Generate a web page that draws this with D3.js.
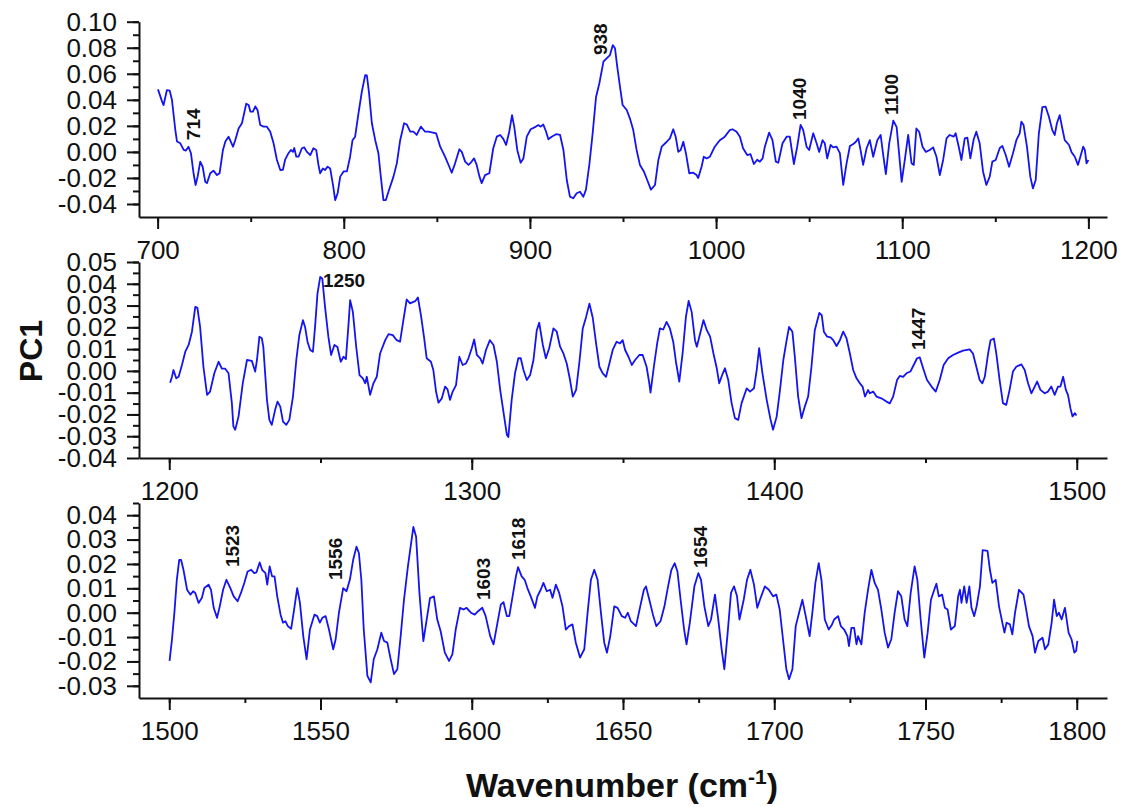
<!DOCTYPE html>
<html lang="en">
<head>
<meta charset="UTF-8">
<title>PC1 loadings</title>
<script src="https://cdn.jsdelivr.net/npm/d3@7"></script>
<style>
  body { margin: 0; background: #fff; }
  svg text { font-family: "Liberation Sans", Arial, sans-serif; fill: #111; }
</style>
</head>
<body>
<svg id="chart" width="1136" height="807"></svg>
<script>
// PC1 loading as [wavenumber, value]
const spec1 = [[700.2,0.048],[702.4,0.0386],[703.2,0.036],[705,0.0475],[706.5,0.047],[707.7,0.040],[709.5,0.017],[710.4,0.008],[712.2,0.0066],[713.1,0.004],[714,0.0015],[715.2,0.001],[716.6,0.004],[717.9,-0.001],[719.3,-0.0164],[720.4,-0.0254],[721.5,-0.019],[722.9,-0.0075],[724.2,-0.0114],[725.6,-0.023],[726.5,-0.024],[728.3,-0.0164],[730,-0.0144],[731.9,-0.0178],[733.3,-0.0164],[735.1,0.0015],[736.4,0.008],[738.1,0.0117],[740.5,0.004],[741.7,0.009],[743.5,0.018],[745.3,0.022],[747.6,0.037],[748.9,0.036],[749.8,0.031],[751.2,0.031],[752.5,0.035],[753.7,0.032],[755.1,0.0207],[756.9,0.0194],[758.7,0.0194],[760.5,0.0155],[762.3,0.0066],[764.1,-0.0062],[765.9,-0.0139],[767.3,-0.0137],[768.5,-0.006],[770.3,-0.001],[771.6,0.0015],[772.7,0],[773.4,0.003],[774.5,-0.0037],[775.7,-0.0037],[777.5,0.0028],[778.7,0.0035],[780.2,0],[782,-0.0024],[783.7,0.0028],[785.2,0.0015],[786.4,-0.010],[787.3,-0.0164],[788.8,-0.0127],[790,-0.0139],[791.3,-0.0113],[792.7,-0.0127],[794.2,-0.0254],[795.4,-0.037],[796.7,-0.0318],[798.1,-0.019],[799.9,-0.015],[801.7,-0.015],[803.4,-0.0037],[804.7,0.009],[806.1,0.0117],[807.9,0.0296],[809.7,0.0462],[811.5,0.059],[812.4,0.0587],[813.6,0.045],[815.1,0.022],[816.9,0.009],[818.6,-0.001],[819.9,-0.019],[821.3,-0.037],[822.6,-0.037],[824,-0.0306],[826.7,-0.019],[828.5,-0.0088],[830.3,0.009],[832.4,0.022],[833.9,0.021],[835.7,0.0155],[837.4,0.0155],[839.2,0.013],[841.4,0.0194],[843.7,0.0155],[845.5,0.0155],[847.3,0.015],[849.6,0.0143],[851.8,0.004],[854.4,-0.0037],[856.7,-0.0114],[858,-0.016],[859.8,-0.0088],[862.1,0.002],[863.4,0],[865.2,-0.0075],[867,-0.010],[868.3,-0.0082],[870,-0.005],[871.4,-0.010],[872.9,-0.019],[874.1,-0.024],[875.9,-0.0178],[878.2,-0.0164],[880.3,0.0028],[882.2,0.0117],[884,0.013],[885.7,0.01],[887.2,0.0053],[888.9,0.0155],[890.4,0.0283],[891.6,0.019],[893.2,0.0015],[895,-0.0083],[896.5,-0.005],[898.3,0.0117],[900.4,0.0174],[902.7,0.019],[904.5,0.0206],[905.8,0.0194],[907.2,0.021],[908.7,0.0155],[909.9,0.0097],[911.7,0.0117],[914,0.0136],[916.2,0.013],[918,0.0015],[919.8,-0.0216],[921.5,-0.0344],[923.3,-0.0356],[925.1,-0.0318],[926.9,-0.0306],[928.7,-0.0344],[930.1,-0.029],[931.9,-0.010],[933.7,0.0143],[935.5,0.042],[937.3,0.0527],[939.5,0.0693],[941.2,0.0719],[943,0.0744],[944.5,0.082],[945.7,0.0796],[946.9,0.0655],[948.4,0.050],[949.8,0.036],[952,0.0322],[953.7,0.0258],[955.5,0.0168],[957.3,0.0015],[959.1,-0.010],[961.2,-0.015],[963,-0.0216],[965,-0.029],[967.2,-0.0254],[969,-0.0062],[970.8,0.004],[973.5,0.0078],[975.2,0.0104],[977,0.0174],[978.3,0.0117],[979.7,0],[981,0.0015],[982.4,0.0078],[983.8,-0.001],[985.6,-0.0164],[987.7,-0.016],[989.5,-0.0178],[990.4,-0.020],[992.2,-0.0114],[993.4,-0.0037],[994.9,-0.005],[996.7,-0.0037],[999.3,0.004],[1002,0.009],[1004.7,0.0117],[1007.4,0.0168],[1008.8,0.0174],[1011,0.0155],[1012.8,0.0117],[1014.5,0.0028],[1016.7,-0.0024],[1018.5,-0.0018],[1020.3,-0.0093],[1022.1,-0.006],[1023.5,-0.0075],[1025,-0.005],[1026.2,0.004],[1028.5,0.0148],[1030.3,0.009],[1032.1,-0.0075],[1033.4,-0.0083],[1035.7,0.0066],[1037.9,0.0117],[1039.6,0.0117],[1041.8,-0.0093],[1043.6,0.004],[1045.4,0.0207],[1046.8,0.0168],[1048.6,0.004],[1050,0.0015],[1052.2,0.0143],[1054,0.0066],[1055.4,0],[1057.2,0.009],[1058.4,0.0066],[1059.7,-0.005],[1061.5,0.0053],[1062.9,0.0035],[1064.7,0.004],[1066.5,-0.001],[1068.3,-0.0254],[1070.1,-0.0088],[1071.9,0.0045],[1073.7,0.006],[1075.1,0.0078],[1076.4,0.0104],[1077.6,0.0015],[1079,-0.010],[1080.9,0.003],[1082.6,0.009],[1084.4,-0.0037],[1086.6,0.009],[1088.4,0.013],[1089.8,-0.0024],[1091.2,-0.017],[1093,0.0066],[1095.2,0.024],[1097,0.019],[1098.8,-0.0088],[1099.7,-0.023],[1101.4,-0.006],[1103.2,0.013],[1105,-0.0088],[1106.2,-0.010],[1107.6,0.018],[1109.1,0.0155],[1110.9,0.004],[1112.7,0],[1114.8,0.0015],[1116.6,0.0035],[1118.4,-0.0037],[1120.2,-0.0178],[1122,-0.006],[1123.8,0.0104],[1125.5,0.013],[1127.7,0.0117],[1128.7,0.0143],[1130.5,0.003],[1131.8,-0.0062],[1133.6,0.0104],[1135,0.011],[1136.6,-0.005],[1138.4,0.0097],[1139.8,0.0155],[1141.6,0.0066],[1143.4,-0.015],[1145.2,-0.0254],[1147,-0.019],[1148.4,-0.0075],[1150.2,-0.0062],[1152.4,0.003],[1153.8,0.0045],[1155.6,-0.0024],[1157.4,-0.0114],[1159.5,-0.001],[1161.3,0.009],[1163.1,0.0143],[1164,0.0232],[1165.2,0.0206],[1167,0.004],[1168.8,-0.019],[1170.2,-0.028],[1171.7,-0.0216],[1173.4,0.0143],[1175.3,0.0343],[1177,0.0348],[1178.8,0.027],[1180.6,0.0168],[1181.9,0.013],[1183.1,0.022],[1184.6,0.0283],[1186,0.018],[1187.3,0.009],[1189.6,0.0053],[1190.9,0],[1192.7,-0.0037],[1194.4,-0.010],[1195.7,-0.0037],[1197.2,0.004],[1198.1,0.0015],[1199,-0.0088],[1200,-0.0062]];

const spec2 = [[1200.3,-0.0054],[1200.9,-0.0027],[1201.4,0.0004],[1202.3,-0.0034],[1203.1,-0.0027],[1204.2,0.0027],[1205.3,0.0088],[1206.4,0.0119],[1207.5,0.018],[1208.6,0.0294],[1209.3,0.029],[1210.2,0.0202],[1211.3,0.0019],[1212.5,-0.011],[1213.5,-0.0095],[1214.9,-0.0011],[1216.3,0.0042],[1217.4,0.001],[1218.5,0.001],[1219.6,-0.0011],[1220.7,-0.0148],[1221.2,-0.0255],[1221.8,-0.027],[1222.9,-0.021],[1224.3,-0.0057],[1225.7,0.005],[1227.3,0.0046],[1228.4,-0.0003],[1229,0.005],[1229.8,0.0157],[1230.6,0.015],[1231.1,0.011],[1232.3,-0.0133],[1233.1,-0.0225],[1233.9,-0.0248],[1235,-0.0179],[1235.8,-0.0141],[1236.7,-0.0164],[1237.6,-0.0233],[1238.7,-0.0248],[1239.7,-0.0225],[1240.9,-0.0118],[1242,0.005],[1243,0.0164],[1244.2,0.0233],[1244.9,0.0202],[1245.7,0.0134],[1246.6,0.0096],[1247.5,0.0088],[1248.2,0.0202],[1249,0.0355],[1249.9,0.0431],[1250.6,0.0424],[1251.5,0.0294],[1252.6,0.0157],[1253.5,0.0073],[1254.6,0.0119],[1255.6,0.011],[1256.7,0.0042],[1257.6,0.0065],[1258.4,0.0054],[1259.2,0.0202],[1259.8,0.0325],[1260.7,0.0271],[1261.8,0.0111],[1262.9,-0.0019],[1264,-0.0034],[1264.8,-0.0057],[1265.3,-0.0027],[1266.4,-0.011],[1267.5,-0.0057],[1268.6,-0.0027],[1269.7,0.008],[1271.4,0.0141],[1272.5,0.0169],[1273.9,0.0164],[1275.2,0.0141],[1276.3,0.0134],[1277.4,0.0233],[1278.5,0.0328],[1279.6,0.031],[1281.3,0.032],[1282.2,0.0337],[1283.2,0.0256],[1284.2,0.0157],[1285.1,0.0058],[1286.5,0.0042],[1287.3,0.0004],[1288.2,-0.0095],[1289,-0.0146],[1290.1,-0.0126],[1291.2,-0.0072],[1292,-0.0085],[1292.8,-0.0133],[1293.7,-0.0095],[1294.8,-0.0065],[1295.9,0.0065],[1297,0.0027],[1298.1,0.0034],[1298.9,0.0058],[1300,0.0104],[1300.8,0.0144],[1301.7,0.0073],[1302.8,0.0057],[1303.6,0.0034],[1304.7,0.0096],[1306,0.0141],[1307.2,0.0119],[1308.3,0.0042],[1309.4,-0.0087],[1310.7,-0.0209],[1311.6,-0.0293],[1312.1,-0.0304],[1313.2,-0.0133],[1314.3,-0.0011],[1315.4,0.0058],[1316.2,0.0058],[1317.1,0.0004],[1318.2,-0.0042],[1319.3,-0.0019],[1320.4,0.005],[1321.5,0.0187],[1322.3,0.0221],[1323.5,0.0119],[1324.5,0.0058],[1325.6,0.0104],[1327,0.0195],[1328.1,0.018],[1329.2,0.0111],[1330.3,0.008],[1331.4,0.0034],[1332.5,-0.0042],[1333.4,-0.0118],[1334.5,-0.0087],[1335.6,0.0042],[1336.7,0.0195],[1337.8,0.0248],[1338.9,0.0309],[1340,0.0244],[1341.1,0.0126],[1342.2,0.0019],[1343.3,-0.0011],[1344.4,-0.0027],[1345.5,0.0034],[1346.6,0.0096],[1347.9,0.0134],[1349,0.0126],[1349.9,0.0141],[1350.7,0.0096],[1351.8,0.0065],[1352.9,0.0027],[1354,0.005],[1355.4,0.0073],[1356.5,0.0073],[1357.8,0.0019],[1358.7,-0.0057],[1359.1,-0.01],[1360.2,0.0019],[1361.3,0.0126],[1362.2,0.0195],[1363.3,0.019],[1364.4,0.0225],[1365.5,0.0195],[1366.6,0.0134],[1367.5,0.0042],[1368.6,-0.0049],[1369.7,0.008],[1370.8,0.0248],[1371.7,0.0321],[1372.7,0.0271],[1373.8,0.0141],[1374.4,0.0111],[1375.5,0.0172],[1376.6,0.0233],[1377.7,0.0187],[1378.8,0.0157],[1379.9,0.008],[1381,0.0012],[1381.8,-0.0057],[1383,-0.0011],[1383.7,0.0012],[1384.8,-0.0042],[1385.9,-0.0148],[1387,-0.0217],[1388.1,-0.0225],[1389.2,-0.0148],[1390.9,-0.008],[1392,-0.0095],[1393.3,-0.008],[1394.2,0.0004],[1395,0.0104],[1396.1,-0.0011],[1397.5,-0.0133],[1398.8,-0.0225],[1399.6,-0.027],[1400.8,-0.021],[1401.9,-0.0087],[1403,0.005],[1404.1,0.0141],[1404.9,0.0202],[1406,0.018],[1406.8,0.0065],[1407.9,-0.0118],[1409,-0.0217],[1410.1,-0.0164],[1411.2,-0.0118],[1412.3,0.0019],[1413.4,0.0187],[1414.9,0.0266],[1415.7,0.0256],[1416.4,0.018],[1417.5,0.0157],[1418.6,0.0154],[1419.5,0.0141],[1420.6,0.0114],[1421.7,0.0141],[1422.8,0.018],[1423.9,0.0149],[1425,0.008],[1426.1,0.0004],[1427.2,-0.0034],[1428.3,-0.0057],[1429.2,-0.0072],[1430,-0.0118],[1431,-0.0088],[1431.6,-0.0103],[1432.7,-0.0095],[1433.8,-0.0118],[1435.4,-0.0126],[1437.1,-0.0141],[1438.2,-0.0149],[1439.3,-0.0118],[1440.6,-0.0042],[1441.5,-0.0023],[1442.6,-0.0027],[1443.7,-0.0011],[1445,-0.0003],[1446.1,0.0027],[1447.2,0.0058],[1448.1,0.0062],[1449.4,0.0004],[1450.5,-0.0042],[1452,-0.0072],[1453.4,-0.0095],[1454.7,-0.0042],[1456,0.0027],[1457.5,0.0058],[1459.1,0.0073],[1460.8,0.0084],[1462.4,0.0093],[1464.6,0.0099],[1465.7,0.008],[1466.8,0.0019],[1467.9,-0.0042],[1468.8,-0.0057],[1469.6,-0.0027],[1470.7,0.008],[1471.5,0.0141],[1472.6,0.0149],[1473.4,0.008],[1474.5,-0.0042],[1475.6,-0.0148],[1476.7,-0.0156],[1477.8,-0.0087],[1478.9,-0.0003],[1480,0.0019],[1481.7,0.003],[1482.8,0.0004],[1483.9,-0.0057],[1485,-0.0103],[1486.1,-0.0072],[1486.9,-0.0049],[1488,-0.0087],[1489.4,-0.0103],[1490.5,-0.0095],[1491.6,-0.0072],[1492.7,-0.011],[1493.8,-0.0072],[1494.6,-0.0072],[1495.5,-0.0027],[1496.4,-0.0087],[1497.1,-0.011],[1497.9,-0.0171],[1498.6,-0.0209],[1499.4,-0.0194],[1499.9,-0.0205]];

const spec3 = [[1500.1,-0.0198],[1500.9,-0.011],[1501.7,0],[1502.5,0.0135],[1503.3,0.0217],[1503.9,0.0217],[1504.7,0.0176],[1505.9,0.0094],[1507,0.0074],[1507.9,0.0088],[1508.6,0.0081],[1509.7,0.004],[1510.8,0.0061],[1511.6,0.0101],[1513,0.0115],[1513.8,0.0094],[1514.7,0.002],[1515.8,-0.0021],[1516.7,0.0026],[1517.8,0.0094],[1518.9,0.0135],[1520.2,0.0101],[1521.3,0.0067],[1522.6,0.0047],[1523.7,0.0081],[1524.8,0.0122],[1525.9,0.0169],[1527.1,0.0176],[1528.1,0.0162],[1528.8,0.0165],[1529.9,0.0206],[1530.7,0.0176],[1531.8,0.0162],[1532.4,0.0115],[1533.2,0.019],[1534,0.0149],[1534.8,0.0149],[1535.7,0.0067],[1536.8,-0.0008],[1537.6,-0.0041],[1538.4,-0.0035],[1539.2,-0.0055],[1540.3,-0.0066],[1541.2,0.0006],[1542.3,0.0101],[1543.2,0.004],[1544.3,-0.0096],[1545.4,-0.0191],[1546.5,-0.0069],[1548,-0.0008],[1548.9,-0.0014],[1549.8,-0.0041],[1550.6,-0.0021],[1551.7,-0.0014],[1552.8,-0.0069],[1554.2,-0.015],[1555,-0.011],[1556.1,0],[1557.5,0.0101],[1558.6,0.0088],[1559.7,0.0135],[1560.8,0.0217],[1561.9,0.0271],[1562.7,0.0244],[1563.5,0.0135],[1564.3,-0.0069],[1565.5,-0.0259],[1566.6,-0.0286],[1567.6,-0.0191],[1568.8,-0.015],[1570.1,-0.0082],[1571,-0.0116],[1572.1,-0.0123],[1573.2,-0.0191],[1574.3,-0.0252],[1575.4,-0.0232],[1576.5,-0.0096],[1577.6,0.0053],[1578.9,0.019],[1580.7,0.0352],[1581.6,0.0312],[1582.7,0.0081],[1584,-0.0117],[1585.1,-0.0028],[1586.2,0.006],[1587.5,0.0067],[1588.6,-0.0028],[1589.7,-0.0075],[1591.1,-0.0164],[1592.5,-0.0198],[1593.6,-0.0171],[1594.7,-0.0069],[1596.1,0.002],[1597.3,0.0013],[1598.3,0.002],[1599.7,0],[1601,-0.0008],[1602.1,0.0006],[1603.5,0.002],[1604.6,-0.0014],[1606.1,-0.0096],[1607.2,-0.013],[1608.3,-0.0055],[1609.6,0.0033],[1610.5,0.0043],[1611.6,-0.0014],[1612.4,-0.0014],[1613.5,0.0067],[1614.6,0.0149],[1615.3,0.0187],[1616.5,0.0149],[1617.5,0.0135],[1618.4,0.0101],[1619.5,0.0067],[1620.9,0.002],[1621.7,0.0067],[1622.8,0.0094],[1623.7,0.0122],[1624.8,0.0088],[1625.9,0.0094],[1626.7,0.0061],[1627.8,0.0115],[1628.9,0.0081],[1630,0.0026],[1631.1,-0.0069],[1632.2,-0.0055],[1633.3,-0.0048],[1634.4,-0.0123],[1635.8,-0.0184],[1637.2,-0.015],[1638.3,0],[1639.4,0.0135],[1640.5,0.0176],[1641.6,0.0135],[1642.7,0],[1643.8,-0.0123],[1644.7,-0.0164],[1645.8,-0.0096],[1647.1,0.0026],[1648.2,0.002],[1649.6,-0.0014],[1650.7,-0.0021],[1651.6,0],[1652.6,-0.0035],[1654.3,-0.0055],[1655.7,0.0026],[1656.9,0.0094],[1657.6,0.0108],[1658.7,0.0053],[1659.9,-0.0008],[1661,-0.0055],[1662.4,-0.0035],[1663.7,0.0026],[1664.9,0.0108],[1666,0.0176],[1667.1,0.0203],[1668,0.0169],[1669.1,0.0047],[1670.2,-0.0069],[1671,-0.013],[1672.1,-0.0041],[1673.6,0.0108],[1674.9,0.0162],[1675.8,0.0135],[1676.9,0.0026],[1678.2,-0.0055],[1679.1,-0.0028],[1680.4,0.0074],[1681.5,-0.0028],[1682.6,-0.015],[1683.5,-0.0232],[1684.6,-0.0082],[1685.7,0.0081],[1686.7,0.0108],[1687.7,0.0067],[1688.5,-0.0028],[1689.9,0.0053],[1691,0.0135],[1692.1,0.0176],[1693.3,0.0115],[1694.4,0.002],[1695.5,0.0061],[1696.9,0.0108],[1698.2,0.0094],[1699.6,0.0067],[1700.7,0.0074],[1701.8,0.0013],[1702.9,-0.011],[1704,-0.0232],[1704.9,-0.0273],[1706,-0.0232],[1707.1,-0.0055],[1708.2,0],[1709.3,0.0053],[1710.4,-0.0014],[1711.7,-0.0096],[1712.6,0],[1713.6,0.0122],[1714.7,0.0203],[1715.6,0.0135],[1716.7,-0.0028],[1718,-0.0069],[1719.1,-0.0048],[1719.8,-0.0028],[1721.1,-0.0014],[1722,-0.0055],[1723.1,-0.0069],[1724.2,-0.0096],[1724.7,-0.0137],[1725.5,-0.0062],[1726.4,-0.0062],[1727.2,-0.013],[1727.7,-0.0096],[1728.8,-0.013],[1729.9,0],[1731,0.0094],[1732.1,0.0176],[1733.2,0.0122],[1734.3,0.0094],[1735.4,0.0013],[1736.5,-0.0082],[1737.6,-0.0143],[1738.7,-0.0109],[1739.8,0],[1740.9,0.0088],[1742,0.0067],[1743.1,-0.0028],[1744,-0.0055],[1745.1,0.0081],[1746.4,0.019],[1747.3,0.0135],[1748.4,-0.0028],[1749.6,-0.0184],[1750.7,-0.0082],[1751.8,0.0053],[1752.9,0.0094],[1753.6,0.0119],[1754.4,0.0067],[1755.5,0.0074],[1756.4,0.002],[1757.3,0.0013],[1758.4,-0.0069],[1759.7,-0.0055],[1760.8,0.0067],[1761.4,0.0094],[1761.9,0.004],[1762.8,0.0108],[1763.6,0.004],[1764.5,0.0108],[1765.2,0.002],[1766.1,-0.0014],[1766.9,0.0026],[1768,0.0108],[1768.9,0.0257],[1770.5,0.0254],[1771.3,0.0176],[1772.1,0.0122],[1773.2,0.0135],[1774.3,0.0026],[1775.4,-0.0041],[1776.1,-0.0082],[1776.8,-0.0041],[1777.9,-0.0048],[1778.7,-0.0089],[1779.6,0],[1780.9,0.0094],[1782.4,0.0074],[1783.1,0.0026],[1784.2,-0.0055],[1785.4,-0.0096],[1786.2,-0.0164],[1787.3,-0.0116],[1788.7,-0.0103],[1789.5,-0.015],[1790.6,-0.013],[1791.7,-0.0041],[1792.5,0.0053],[1793.4,-0.0014],[1794.1,0],[1795,-0.0028],[1796.1,0.002],[1797.3,-0.0082],[1798.3,-0.011],[1799.2,-0.0164],[1799.8,-0.0157],[1800.2,-0.0116]];

// tick labels
const xTicks1 = [700, 800, 900, 1000, 1100, 1200];
const xTicks2 = [1200, 1300, 1400, 1500];
const xTicks3 = [1500, 1550, 1600, 1650, 1700, 1750, 1800];
const yTicks1 = [-0.04, -0.02, 0.00, 0.02, 0.04, 0.06, 0.08, 0.10];
const yTicks2 = [-0.04, -0.03, -0.02, -0.01, 0.00, 0.01, 0.02, 0.03, 0.04, 0.05];
const yTicks3 = [-0.03, -0.02, -0.01, 0.00, 0.01, 0.02, 0.03, 0.04];

// band labels: wavenumber/value where the label sits
const peaks1 = [
  {text: "714", wn: 719, val: 0.009},
  {text: "938", wn: 937.6, val: 0.0744},
  {text: "1040", wn: 1044.5, val: 0.0245},
  {text: "1100", wn: 1094, val: 0.0283}
];
const peaks2 = [
  {text: "1250", wn: 1250.8, val: 0.0385, flat: true},
  {text: "1447", wn: 1447.5, val: 0.0096}
];
const peaks3 = [
  {text: "1523", wn: 1520.7, val: 0.0187},
  {text: "1556", wn: 1554.8, val: 0.0134},
  {text: "1603", wn: 1603.7, val: 0.0052},
  {text: "1618", wn: 1615.3, val: 0.0216},
  {text: "1654", wn: 1675.5, val: 0.0183}
];

const svg = d3.select("#chart");
const left = 139, right = 1107;

const panels = [
  {data: spec1, xDom: [690, 1210], yDom: [-0.05, 0.10], top: 21.7, bottom: 217,
   xMajor: xTicks1, xStep: 50, yMajor: yTicks1, yStep: 0.01, peaks: peaks1},
  {data: spec2, xDom: [1190, 1510], yDom: [-0.04, 0.05], top: 262, bottom: 458,
   xMajor: xTicks2, xStep: 50, yMajor: yTicks2, yStep: 0.005, peaks: peaks2},
  {data: spec3, xDom: [1490, 1810], yDom: [-0.035, 0.045], top: 503, bottom: 698,
   xMajor: xTicks3, xStep: 25, yMajor: yTicks3, yStep: 0.005, peaks: peaks3}
];

function styleAxis(g) {
  g.selectAll("path, line").attr("stroke", "#111").attr("stroke-width", 2);
  g.selectAll("text").attr("font-size", 26).attr("fill", "#111");
}

panels.forEach(function (p) {
  const x = d3.scaleLinear().domain(p.xDom).range([left, right]);
  const y = d3.scaleLinear().domain(p.yDom).range([p.bottom, p.top]);

  // minor ticks
  const xMinor = d3.range(p.xMajor[0], p.xMajor[p.xMajor.length - 1] + 1e-9, p.xStep);
  const nY = Math.round((p.yDom[1] - p.yDom[0]) / p.yStep);
  const yMinor = d3.range(1, nY + 1).map(i => +(p.yDom[0] + i * p.yStep).toFixed(4));

  svg.append("g")
    .attr("transform", `translate(0,${p.bottom})`)
    .call(d3.axisBottom(x).tickValues(xMinor).tickSize(5).tickFormat(""))
    .call(g => g.select(".domain").remove())
    .call(styleAxis);

  svg.append("g")
    .attr("transform", `translate(${left},0)`)
    .call(d3.axisLeft(y).tickValues(yMinor).tickSize(6).tickFormat(""))
    .call(g => g.select(".domain").remove())
    .call(styleAxis);

  svg.append("g")
    .attr("transform", `translate(0,${p.bottom})`)
    .call(d3.axisBottom(x).tickValues(p.xMajor).tickSize(12).tickSizeOuter(0)
      .tickPadding(12).tickFormat(d3.format("d")))
    .call(styleAxis);

  svg.append("g")
    .attr("transform", `translate(${left},0)`)
    .call(d3.axisLeft(y).tickValues(p.yMajor).tickSize(12).tickSizeOuter(0)
      .tickPadding(10).tickFormat(v => v.toFixed(2)))
    .call(styleAxis);

  const line = d3.line().x(d => x(d[0])).y(d => y(d[1]));
  svg.append("path")
    .datum(p.data)
    .attr("fill", "none")
    .attr("stroke", "#1414f0")
    .attr("stroke-width", 1.8)
    .attr("stroke-linejoin", "round")
    .attr("d", line);

  // band annotations
  p.peaks.forEach(function (k) {
    const t = svg.append("text")
      .attr("font-size", 19)
      .attr("font-weight", "bold")
      .text(k.text);
    if (k.flat) {
      t.attr("x", x(k.wn)).attr("y", y(k.val));
    } else {
      const px = x(k.wn) + 7, py = y(k.val);
      t.attr("transform", `translate(${px},${py}) rotate(-90)`);
    }
  });
});

// axis titles
svg.append("text")
  .attr("transform", "translate(42,351) rotate(-90)")
  .attr("text-anchor", "middle")
  .attr("font-size", 32)
  .attr("font-weight", "bold")
  .text("PC1");

const title = svg.append("text")
  .attr("x", 622)
  .attr("y", 797)
  .attr("text-anchor", "middle")
  .attr("font-size", 34)
  .attr("font-weight", "bold");
title.append("tspan").text("Wavenumber (cm");
title.append("tspan").attr("font-size", 21).attr("dy", -13).text("-1");
title.append("tspan").attr("dy", 13).text(")");
</script>
</body>
</html>
